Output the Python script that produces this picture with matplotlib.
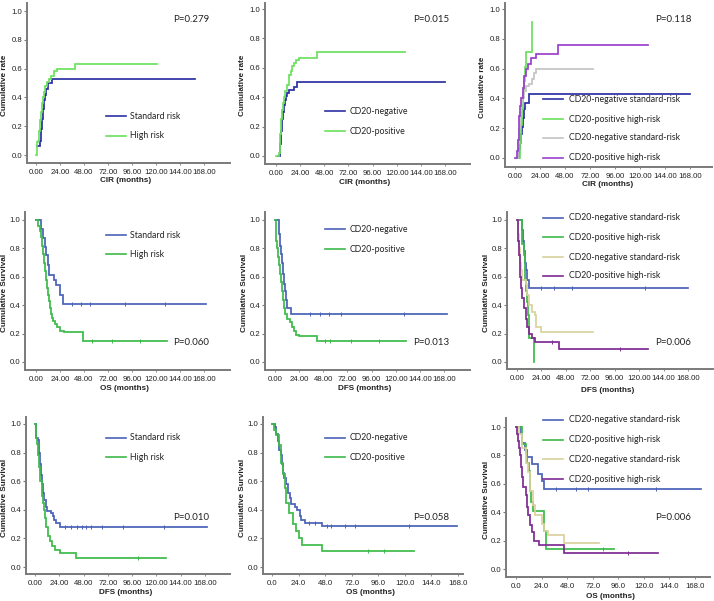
import numpy as np
import matplotlib
matplotlib.use("Agg")
import matplotlib.pyplot as plt

# ---------------- DATA ----------------
# Panel 1: CIR by risk
p1_std_t = [1, 4, 5, 6, 7, 8, 9, 10, 12, 13, 16, 159]
p1_std_y = [0.06, 0.10, 0.18, 0.25, 0.32, 0.38, 0.42, 0.46, 0.50, 0.50, 0.53, 0.53]
p1_high_t = [0, 0.7, 2.5, 3.5, 4.5, 5.5, 6.5, 7.5, 8.5, 9.5, 11, 13, 15, 18, 21, 39, 121]
p1_high_y = [0.0, 0.09, 0.10, 0.17, 0.24, 0.30, 0.36, 0.40, 0.44, 0.48, 0.51, 0.53, 0.55, 0.58, 0.60, 0.63, 0.63]
# Panel 2: CIR by CD20
p2_neg_t = [2, 4, 5, 6, 7, 8, 9, 10, 11, 13, 16, 18, 21, 168]
p2_neg_y = [0.0, 0.08, 0.17, 0.25, 0.30, 0.35, 0.38, 0.41, 0.43, 0.45, 0.45, 0.47, 0.505, 0.505]
p2_pos_t = [0, 3, 4, 5, 6, 7, 8, 9, 11, 13, 15, 16, 18, 20, 23, 41, 128]
p2_pos_y = [0.0, 0.02, 0.15, 0.25, 0.31, 0.36, 0.40, 0.44, 0.48, 0.55, 0.58, 0.61, 0.63, 0.65, 0.67, 0.71, 0.71]
# Panel 3: CIR by four groups
p3_a_t = [3, 4, 5, 6, 7, 8, 9, 10, 13, 168]
p3_a_y = [0.0, 0.06, 0.10, 0.16, 0.21, 0.27, 0.33, 0.37, 0.43, 0.43]
p3_b_t = [4, 5, 6, 7, 8, 9, 10, 11, 16.6]
p3_b_y = [0.0, 0.10, 0.22, 0.33, 0.44, 0.52, 0.61, 0.71, 0.91]
p3_c_t = [2, 3, 4, 5, 6, 7, 9, 11, 13, 16, 18, 20, 75]
p3_c_y = [0.0, 0.10, 0.20, 0.30, 0.36, 0.40, 0.45, 0.48, 0.50, 0.53, 0.57, 0.60, 0.60]
p3_d_t = [0, 2, 3, 4, 5, 6, 8, 9, 11, 12, 15, 20, 41, 128]
p3_d_y = [0.0, 0.05, 0.12, 0.28, 0.35, 0.40, 0.47, 0.55, 0.60, 0.63, 0.67, 0.70, 0.76, 0.76]
# Panel 4: OS by risk
p4_std_t = [0, 5, 7, 9, 10, 12, 13, 18, 20, 24, 27, 170]
p4_std_y = [1.0, 0.94, 0.87, 0.81, 0.75, 0.68, 0.61, 0.58, 0.54, 0.47, 0.41, 0.41]
p4_std_c = [36, 45, 54, 89, 129]
p4_high_t = [0, 2, 4, 5, 6, 7, 8, 9, 10, 11, 12, 13, 14, 15, 16, 17, 19, 21, 24, 28, 47, 131]
p4_high_y = [1.0, 0.96, 0.92, 0.88, 0.82, 0.76, 0.70, 0.64, 0.58, 0.52, 0.47, 0.43, 0.38, 0.34,
             0.31, 0.29, 0.27, 0.25, 0.22, 0.21, 0.15, 0.15]
p4_high_c = [56, 76, 104]
# Panel 5: DFS by CD20
p5_neg_t = [0, 4, 5, 6, 7, 8, 9, 10, 11, 12, 15.5, 171]
p5_neg_y = [1.0, 0.90, 0.82, 0.76, 0.70, 0.62, 0.55, 0.50, 0.44, 0.38, 0.34, 0.34]
p5_neg_c = [35, 45, 54, 66, 128]
p5_pos_t = [0, 0.5, 1, 2, 3, 4, 5, 6, 7, 8, 9, 10, 12, 15, 17, 19, 21, 24, 42, 130]
p5_pos_y = [1.0, 0.91, 0.85, 0.80, 0.74, 0.68, 0.62, 0.56, 0.50, 0.44, 0.38, 0.34, 0.30, 0.28,
            0.25, 0.22, 0.19, 0.18, 0.15, 0.15]
p5_pos_c = [50, 55, 76, 103]
# Panel 6: DFS by four groups
p6_a_t = [0, 5, 6, 7, 8, 9, 10, 12, 168]
p6_a_y = [1.0, 0.93, 0.85, 0.78, 0.70, 0.65, 0.58, 0.52, 0.52]
p6_a_c = [24, 36, 54, 126]
p6_b_t = [0, 5, 7, 8, 9, 10, 11, 12, 16.3]
p6_b_y = [1.0, 0.83, 0.75, 0.58, 0.50, 0.42, 0.33, 0.17, 0.0]
p6_c_t = [0, 1, 2, 3, 4, 5, 9, 10, 12, 15, 18, 19, 24, 75]
p6_c_y = [1.0, 0.90, 0.80, 0.70, 0.65, 0.58, 0.55, 0.47, 0.40, 0.35, 0.33, 0.25, 0.21, 0.21]
p6_d_t = [0, 0.5, 1, 2, 3, 4, 5, 7, 9, 10, 12, 15, 18, 41, 129]
p6_d_y = [1.0, 0.93, 0.85, 0.75, 0.60, 0.52, 0.45, 0.38, 0.30, 0.25, 0.20, 0.17, 0.14, 0.09, 0.09]
p6_d_c = [34, 101]
# Panel 7: DFS by risk
p7_std_t = [0, 1, 3, 4, 5, 6, 7, 8, 9, 11, 12, 16, 18, 19, 21, 25, 170]
p7_std_y = [1.0, 0.90, 0.89, 0.80, 0.72, 0.64, 0.58, 0.52, 0.47, 0.42, 0.39, 0.38, 0.36, 0.33,
            0.31, 0.28, 0.28]
p7_std_c = [30, 36, 42, 46, 50, 55, 66, 87, 127]
p7_high_t = [0, 0.5, 2, 3, 4, 5, 7, 8, 9, 10, 11, 13, 15, 17, 20, 25, 41, 129]
p7_high_y = [1.0, 0.90, 0.86, 0.78, 0.70, 0.60, 0.50, 0.45, 0.40, 0.34, 0.28, 0.22, 0.18, 0.15,
             0.12, 0.10, 0.065, 0.065]
p7_high_c = [102]
# Panel 8: OS by CD20
p8_neg_t = [0, 3, 4, 5, 6, 8, 9, 10, 11, 13, 14, 16, 17, 21, 23, 25, 26, 30, 45, 167]
p8_neg_y = [1.0, 0.98, 0.93, 0.88, 0.82, 0.78, 0.72, 0.66, 0.62, 0.58, 0.52, 0.48, 0.44, 0.42,
            0.40, 0.36, 0.33, 0.31, 0.285, 0.285]
p8_neg_c = [33, 39, 50, 53, 66, 75, 124]
p8_pos_t = [0, 2, 4, 6, 8, 10, 12, 13, 15, 19, 22, 24, 27, 45, 128]
p8_pos_y = [1.0, 0.96, 0.92, 0.85, 0.73, 0.65, 0.55, 0.45, 0.38, 0.30, 0.25, 0.20, 0.155, 0.115, 0.115]
p8_pos_c = [87, 101]
# Panel 9: OS by four groups
p9_a_t = [0, 5, 6, 8, 10, 15, 21, 24, 26, 174]
p9_a_y = [1.0, 0.95, 0.89, 0.84, 0.79, 0.74, 0.67, 0.62, 0.56, 0.56]
p9_a_c = [38, 56, 68, 131]
p9_b_t = [0, 6, 9, 10, 12, 13, 14, 16, 26, 28, 92]
p9_b_y = [1.0, 0.88, 0.82, 0.75, 0.69, 0.55, 0.47, 0.41, 0.27, 0.14, 0.14]
p9_b_c = [82]
p9_c_t = [0, 3, 6, 9, 11, 13, 16, 18, 24, 26, 30, 45, 78]
p9_c_y = [1.0, 0.95, 0.85, 0.75, 0.68, 0.55, 0.45, 0.38, 0.32, 0.27, 0.24, 0.18, 0.18]
p9_d_t = [0, 1, 2, 3, 4, 5, 6, 7, 9, 10, 11, 13, 15, 17, 22, 45, 133]
p9_d_y = [1.0, 0.95, 0.90, 0.85, 0.80, 0.72, 0.65, 0.58, 0.52, 0.44, 0.38, 0.31, 0.26, 0.20, 0.17, 0.11, 0.11]
p9_d_c = [105]

risk_labels = ["Standard risk", "High risk"]
cd20_labels = ["CD20-negative", "CD20-positive"]
group_labels = ["CD20-negative standard-risk", "CD20-positive high-risk",
                "CD20-negative standard-risk", "CD20-positive high-risk"]
p_values = ["P=0.279", "P=0.015", "P=0.118", "P=0.060", "P=0.013", "P=0.006",
            "P=0.010", "P=0.058", "P=0.006"]
x_labels = ["CIR (months)", "CIR (months)", "CIR (months)",
            "OS (months)", "DFS (months)", "DFS (months)",
            "DFS (months)", "OS (months)", "OS (months)"]
y_labels = ["Cumulative rate"] * 3 + ["Cumulative Survival"] * 6
x_ticks = [0, 24, 48, 72, 96, 120, 144, 168]
y_ticks = [0.0, 0.2, 0.4, 0.6, 0.8, 1.0]

# ---------------- STYLE / LAYOUT ----------------
W, H = 714, 601
fig = plt.figure(figsize=(W / 100, H / 100), dpi=100)

TICK_FONT = "Liberation Sans"
TEXT_FONT = "Lato"

# (left spine, right end, top, bottom spine, px of x=0, px of x=168, px of y=0, px of y=1)
geom = [
    (27, 230, 3, 163, 36, 204, 155, 11),
    (265, 470, 3, 164, 276, 445, 156, 9),
    (505, 712, 3, 167, 515, 690, 158, 9),
    (25, 230, 212, 370, 36, 204, 362, 220),
    (265, 470, 212, 370, 275, 444, 362, 220),
    (507, 713, 212, 369, 517, 688, 362, 220),
    (26, 230, 417, 574, 35, 205, 567, 424),
    (263, 463, 417, 574, 272, 458, 567, 424),
    (506, 710, 418, 577, 516, 695, 569, 427),
]
# (x-label centre y, y-label centre x) in pixels
label_pos = [
    (181, 5), (182, 243), (185, 482),
    (388, 5), (388, 244), (390, 487),
    (593, 5), (593, 243), (596, 487),
]

c_blue1 = "#2b30a4"
c_green1 = "#6be05e"
c_blue2 = "#4a62b8"
c_green2 = "#3dba4a"
c_gray = "#c4c4c4"
c_tan = "#d8d29c"
c_purple3 = "#9b3fcc"
c_purple = "#7e2a92"
c_axis = "#7a7a7a"
c_text = "#222222"


def fx(x):
    return x / W


def fy(y):
    return 1 - y / H


def make_ax(i):
    L, R, T, B, x0, x168, y0, y1 = geom[i]
    ax = fig.add_axes([fx(L), fy(B), (R - L) / W, (B - T) / H])
    sx = 168 / (x168 - x0)
    ax.set_xlim((L - x0) * sx, (R - x0) * sx)
    sy = 1 / (y0 - y1)
    ax.set_ylim((y0 - B) * sy, (y0 - T) * sy)
    for s in ["top", "right"]:
        ax.spines[s].set_visible(False)
    for s in ["left", "bottom"]:
        ax.spines[s].set_color(c_axis)
        ax.spines[s].set_linewidth(1.4)
    ax.set_xticks(x_ticks)
    ax.set_yticks(y_ticks)
    if i >= 7:
        ax.set_xticklabels([f"{v:.1f}" for v in x_ticks])
    else:
        ax.set_xticklabels([f"{v:.2f}" for v in x_ticks])
    ax.set_yticklabels([f"{v:.1f}" for v in y_ticks])
    ax.tick_params(axis="y", length=2.5, width=0.8, color=c_axis,
                   labelsize=5.6, pad=1.0, labelcolor=c_text)
    ax.tick_params(axis="x", length=1.5, width=0.6, color=c_axis,
                   labelsize=5.6, pad=3.0, labelcolor=c_text)
    for lab in ax.get_xticklabels() + ax.get_yticklabels():
        lab.set_fontfamily(TICK_FONT)
    ax.set_xlabel(x_labels[i], fontsize=5.9, fontweight="bold", family=TICK_FONT,
                  color=c_text, va="center", ha="center")
    ax.set_ylabel(y_labels[i], fontsize=5.9, fontweight="bold", family=TICK_FONT,
                  color=c_text, va="center", ha="center")
    ly, lx = label_pos[i]
    ax.xaxis.set_label_coords((L - 5 + (x168 + 25)) / 2 / W, fy(ly), transform=fig.transFigure)
    ax.yaxis.set_label_coords(fx(lx), fy((T + B) / 2 + 2), transform=fig.transFigure)
    return ax


def km(ax, t, y, color, cens=None, lw=1.25):
    ax.plot(t, y, drawstyle="steps-post", color=color, lw=lw, solid_joinstyle="miter")
    if cens:
        tt = np.asarray(t, float)
        yy = np.asarray(y, float)
        idx = np.searchsorted(tt, cens, side="right") - 1
        ax.plot(cens, yy[idx], linestyle="none", marker="|", markersize=3.0,
                markeredgewidth=0.7, color=color)


def legend(x_line, x_text, rows, labels, colors):
    for yrow, lab, col in zip(rows, labels, colors):
        fig.add_artist(plt.Line2D([fx(x_line), fx(x_line + 20)], [fy(yrow), fy(yrow)],
                                  color=col, lw=1.2, transform=fig.transFigure))
        fig.text(fx(x_text), fy(yrow), lab, fontsize=6.3, family=TEXT_FONT,
                 va="center", ha="left", color=c_text)


def ptext(i, x, y):
    fig.text(fx(x), fy(y), p_values[i], fontsize=7.0, family=TEXT_FONT,
             va="center", ha="left", color=c_text)


# Panel 1
ax = make_ax(0)
km(ax, p1_std_t, p1_std_y, c_blue1)
km(ax, p1_high_t, p1_high_y, c_green1)
legend(106, 130, [116, 136], risk_labels, [c_blue1, c_green1])
ptext(0, 173, 19)

# Panel 2
ax = make_ax(1)
km(ax, p2_neg_t, p2_neg_y, c_blue1)
km(ax, p2_pos_t, p2_pos_y, c_green1)
legend(325, 350, [111, 131], cd20_labels, [c_blue1, c_green1])
ptext(1, 413, 19)

# Panel 3
ax = make_ax(2)
km(ax, p3_a_t, p3_a_y, c_blue1)
km(ax, p3_b_t, p3_b_y, c_green1)
km(ax, p3_c_t, p3_c_y, c_gray)
km(ax, p3_d_t, p3_d_y, c_purple3)
legend(543, 569, [99, 119, 138, 158], group_labels, [c_blue1, c_green1, c_gray, c_purple3])
ptext(2, 655, 19)

# Panel 4
ax = make_ax(3)
km(ax, p4_std_t, p4_std_y, c_blue2, p4_std_c)
km(ax, p4_high_t, p4_high_y, c_green2, p4_high_c)
legend(106, 130, [235, 254], risk_labels, [c_blue2, c_green2])
ptext(3, 173, 342)

# Panel 5
ax = make_ax(4)
km(ax, p5_neg_t, p5_neg_y, c_blue2, p5_neg_c)
km(ax, p5_pos_t, p5_pos_y, c_green2, p5_pos_c)
legend(325, 350, [229, 249], cd20_labels, [c_blue2, c_green2])
ptext(4, 413, 342)

# Panel 6
ax = make_ax(5)
km(ax, p6_a_t, p6_a_y, c_blue2, p6_a_c)
km(ax, p6_b_t, p6_b_y, c_green2)
km(ax, p6_c_t, p6_c_y, c_tan)
km(ax, p6_d_t, p6_d_y, c_purple, p6_d_c)
legend(543, 569, [218, 237, 257, 276], group_labels, [c_blue2, c_green2, c_tan, c_purple])
ptext(5, 655, 342)

# Panel 7
ax = make_ax(6)
km(ax, p7_std_t, p7_std_y, c_blue2, p7_std_c)
km(ax, p7_high_t, p7_high_y, c_green2, p7_high_c)
legend(106, 130, [438, 457], risk_labels, [c_blue2, c_green2])
ptext(6, 173, 517)

# Panel 8
ax = make_ax(7)
km(ax, p8_neg_t, p8_neg_y, c_blue2, p8_neg_c)
km(ax, p8_pos_t, p8_pos_y, c_green2, p8_pos_c)
legend(325, 350, [438, 457], cd20_labels, [c_blue2, c_green2])
ptext(7, 413, 517)

# Panel 9
ax = make_ax(8)
km(ax, p9_a_t, p9_a_y, c_blue2, p9_a_c)
km(ax, p9_b_t, p9_b_y, c_green2, p9_b_c)
km(ax, p9_c_t, p9_c_y, c_tan)
km(ax, p9_d_t, p9_d_y, c_purple, p9_d_c)
legend(543, 569, [420, 440, 459, 479], group_labels, [c_blue2, c_green2, c_tan, c_purple])
ptext(8, 655, 517)

fig.savefig("out.png", dpi=100)
